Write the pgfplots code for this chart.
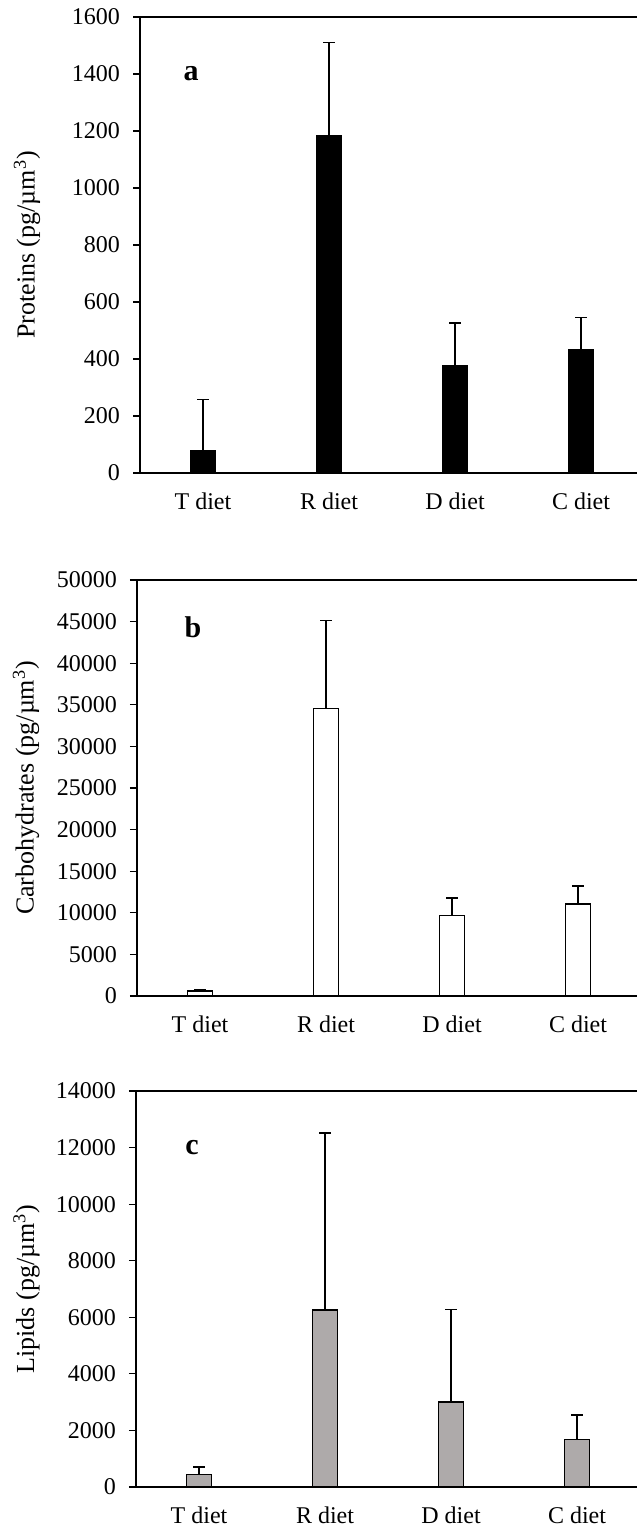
\documentclass[border=0pt]{standalone}
\usepackage{fontspec}
\setmainfont{Liberation Serif}
\usepackage{pgfplots}
\pgfplotsset{compat=1.18}
\definecolor{lipgray}{HTML}{AEAAAA}

\pgfplotsset{
  dietbars/.style={
    scale only axis, anchor=south west,
    ybar, bar width=0.2,
    xmin=-0.5, ymin=0,
    axis y line*=left,
    axis line style={line width=1pt, black},
    xtick={0,1,2,3},
    xticklabels={T diet,R diet,D diet,C diet},
    xtick style={draw=none},
    ytick pos=left, tick align=outside,
    major tick length=3.5pt,
    ytick style={line width=0.6pt, black},
    scaled y ticks=false,
    yticklabel style={/pgf/number format/fixed, /pgf/number format/1000 sep={}, xshift=-3pt},
    xticklabel style={yshift=-3pt},
    tick label style={font=\fontsize{12}{14}\selectfont},
    /pgf/number format/assume math mode=true,
  },
  errs/.style={
    line width=0.6pt, draw=black,
    error bars/y dir=plus, error bars/y explicit,
    error bars/error bar style={line width=0.6pt, black},
    error bars/error mark options={rotate=90, line width=0.6pt, black, mark size=3pt},
  },
}
\tikzset{panel/.style={font=\bfseries\fontsize{15}{17}\selectfont}}

\begin{document}
\begin{tikzpicture}
\useasboundingbox (0,0) rectangle (318.5pt,-765.5pt);

% a: proteins
\begin{axis}[dietbars, at={(70pt,-236.5pt)}, width=248.5pt, height=228pt,
  xmax=3.444, ymax=1600, ytick={0,200,...,1600}]
\addplot[errs, fill=black] coordinates {
  (0,77) +- (0,181)
  (1,1183) +- (0,327)
  (2,378) +- (0,148)
  (3,434) +- (0,113)
};
\node[panel] at (axis cs:-0.095,1400) {a};
\end{axis}

% b: carbohydrates
\begin{axis}[dietbars, at={(68.5pt,-498pt)}, width=250pt, height=208pt,
  xmax=3.468, ymax=50000, ytick={0,5000,...,50000}]
\addplot[errs, fill=white] coordinates {
  (0,600) +- (0,180)
  (1,34560) +- (0,10540)
  (2,9650) +- (0,2130)
  (3,11060) +- (0,2160)
};
\node[panel] at (axis cs:-0.056,44300) {b};
\end{axis}

% c: lipids
\begin{axis}[dietbars, at={(68pt,-743.5pt)}, width=250.5pt, height=198pt,
  xmax=3.476, ymax=14000, ytick={0,2000,...,14000}]
\addplot[errs, fill=lipgray] coordinates {
  (0,430) +- (0,280)
  (1,6257) +- (0,6257)
  (2,3005) +- (0,3285)
  (3,1690) +- (0,853)
};
\node[panel] at (axis cs:-0.056,12000) {c};
\end{axis}

\node[rotate=90, font=\fontsize{13}{15}\selectfont] at (13.5pt,-122.5pt) {Proteins (pg/µm\textsuperscript{3})};
\node[rotate=90, font=\fontsize{13}{15}\selectfont] at (13pt,-394pt) {Carbohydrates (pg/µm\textsuperscript{3})};
\node[rotate=90, font=\fontsize{13}{15}\selectfont] at (13.25pt,-644.5pt) {Lipids (pg/µm\textsuperscript{3})};
\end{tikzpicture}
\end{document}
